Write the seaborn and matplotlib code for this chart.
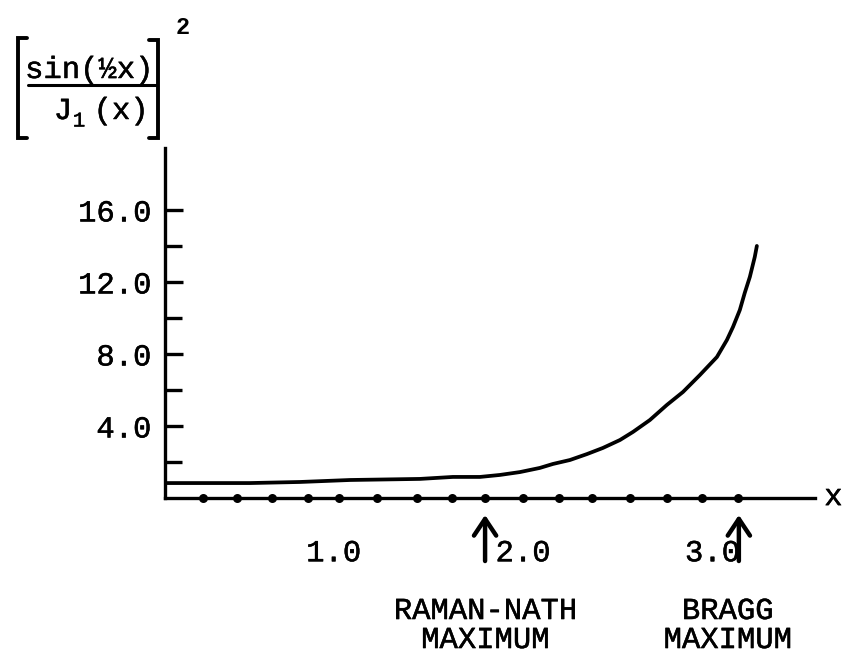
import matplotlib
matplotlib.use("Agg")
import matplotlib.pyplot as plt
import matplotlib.patheffects as pe
from matplotlib.lines import Line2D
import seaborn as sns
import pandas as pd

# Curve values
curve_x = [0.110, 0.558, 0.823, 1.087, 1.456, 1.630, 1.773, 1.878, 1.984, 2.089,
           2.158, 2.248, 2.338, 2.422, 2.512, 2.581, 2.670, 2.760, 2.845, 2.934,
           3.024, 3.077, 3.109, 3.145, 3.171, 3.198, 3.224, 3.235]
curve_y = [0.83, 0.83, 0.89, 1.00, 1.06, 1.17, 1.17, 1.28, 1.44, 1.67,
           1.89, 2.11, 2.44, 2.78, 3.22, 3.67, 4.33, 5.17, 5.89, 6.83,
           7.83, 8.78, 9.50, 10.44, 11.39, 12.28, 13.39, 14.00]

# Computed points marked on the x axis
dot_x = [0.310, 0.490, 0.675, 0.865, 1.028, 1.229, 1.440, 1.625, 1.799,
         2.000, 2.190, 2.365, 2.565, 2.760, 2.945, 3.136]

# Axis ticks
y_major = [4, 8, 12, 16]
y_major_labels = ["4.0", "8.0", "12.0", "16.0"]
y_minor = [2, 6, 10, 14]
x_ticks = [1.0, 2.0, 3.0]
x_tick_labels = ["1.0", "2.0", "3.0"]

# Marked maxima
maxima_x = [1.80, 3.14]
maxima_text_x = [1.80, 3.08]
maxima_line1 = ["RAMAN-NATH", "BRAGG"]
maxima_line2 = ["MAXIMUM", "MAXIMUM"]

sns.set_theme(style="white")
plt.rcParams["font.family"] = ["Liberation Mono", "DejaVu Sans Mono"]
plt.rcParams["text.color"] = "black"

# slightly heavier strokes for typed text
ink = [pe.withStroke(linewidth=0.35, foreground="black")]

W, H = 843, 656
fig = plt.figure(figsize=(W / 100, H / 100), dpi=100)
fig.patch.set_facecolor("white")
ax = fig.add_axes([165 / W, 1 - 498 / H, (815 - 165) / W, (498 - 148) / H])
ax.set_facecolor("white")
ax.set_xlim(0.110, 3.542)
ax.set_ylim(0, 19.44)

for side in ["top", "right"]:
    ax.spines[side].set_visible(False)
for side in ["left", "bottom"]:
    ax.spines[side].set_color("black")
    ax.spines[side].set_linewidth(2.4)
    ax.spines[side].set_capstyle("projecting")

curve = pd.DataFrame({"x": curve_x, "y": curve_y})
sns.lineplot(data=curve, x="x", y="y", ax=ax, color="black", linewidth=2.7,
             sort=False, estimator=None, solid_capstyle="round",
             solid_joinstyle="round")

dots = pd.DataFrame({"x": dot_x, "y": [0.0] * len(dot_x)})
sns.scatterplot(data=dots, x="x", y="y", ax=ax, color="black", s=42,
                edgecolor="black", linewidth=0, clip_on=False, zorder=5)

fs = 22
ax.set_yticks(y_major)
ax.set_yticklabels(y_major_labels)
ax.set_yticks(y_minor, minor=True)
ax.tick_params(axis="y", which="major", direction="in", length=13, width=2.4,
               color="black", labelcolor="black", left=True, pad=10, labelsize=fs)
ax.tick_params(axis="y", which="minor", direction="in", length=12, width=2.4,
               color="black", left=True)
ax.set_xticks(x_ticks)
ax.set_xticklabels(x_tick_labels)
ax.tick_params(axis="x", which="both", length=0, pad=29, labelsize=fs,
               labelcolor="black")
for lab in ax.get_xticklabels() + ax.get_yticklabels():
    lab.set_path_effects(ink)
ax.set_xlabel("")
ax.set_ylabel("")

# x-axis name at the end of the axis
ax.text(3.687, 0.05, "x", fontsize=fs, ha="right", va="center", clip_on=False,
        path_effects=ink)

# Arrows pointing at the maxima, with their captions
for mx, tx, l1, l2 in zip(maxima_x, maxima_text_x, maxima_line1, maxima_line2):
    ax.annotate("", xy=(mx, -0.94), xytext=(mx, -3.5), annotation_clip=False,
                arrowprops=dict(arrowstyle="->,head_length=0.6,head_width=0.4",
                                mutation_scale=20, color="black", lw=3.2,
                                shrinkA=0, shrinkB=0))
    ax.text(tx, (498 - 626) / 18, l1, fontsize=fs, ha="center", va="bottom",
            clip_on=False, path_effects=ink)
    ax.text(tx, (498 - 655) / 18, l2, fontsize=fs, ha="center", va="bottom",
            clip_on=False, path_effects=ink)

# Quantity plotted: [sin(x/2) / J1(x)]^2, typed with brackets
def fx(px):
    return px / W

def fy(py):
    return 1 - py / H

fig.text(fx(89), fy(70), "sin(½x)", fontsize=fs, ha="center", va="center",
         path_effects=ink)
fig.add_artist(Line2D([fx(28), fx(157)], [fy(85), fy(85)], color="black", lw=2.2))
fig.text(fx(63), fy(111), "J", fontsize=fs, ha="center", va="center", path_effects=ink)
fig.text(fx(79), fy(121), "1", fontsize=15, ha="center", va="center", path_effects=ink)
fig.text(fx(121), fy(111), "(x)", fontsize=fs, ha="center", va="center",
         path_effects=ink)
for xs, ys in [([fx(27), fx(18), fx(18), fx(27)], [fy(38), fy(38), fy(138), fy(138)]),
               ([fx(149), fx(158), fx(158), fx(149)], [fy(40), fy(40), fy(138), fy(138)])]:
    fig.add_artist(Line2D(xs, ys, color="black", lw=2.8, solid_joinstyle="miter"))
fig.text(fx(183), fy(27), "2", fontsize=17, ha="center", va="center", fontweight="bold")

fig.savefig("out.png", dpi=100, facecolor="white")
